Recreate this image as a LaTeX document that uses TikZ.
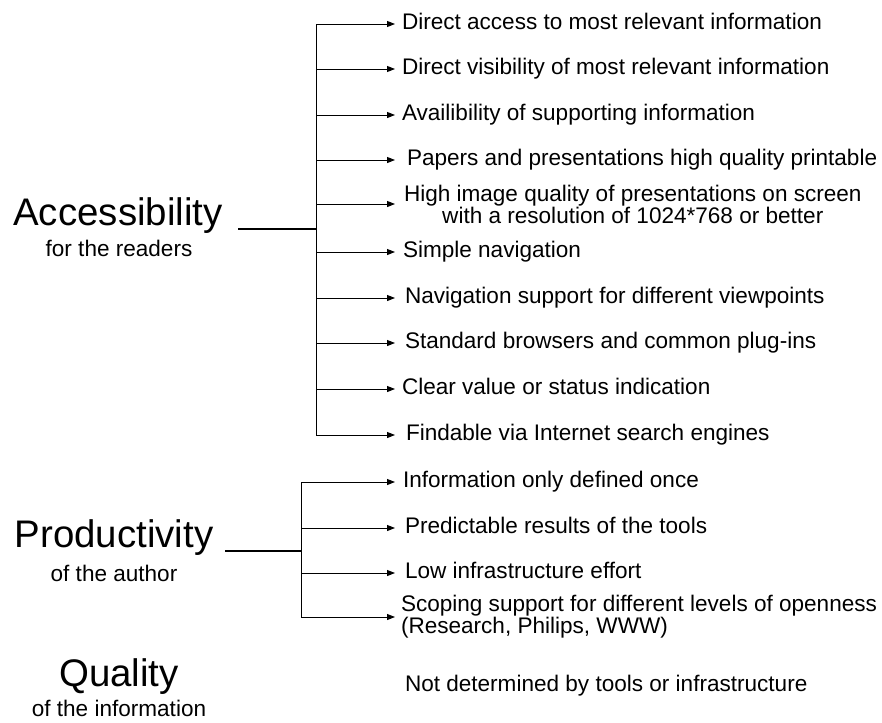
\documentclass[tikz,border=0pt]{standalone}
\usepackage{fontspec}
\setmainfont{Liberation Sans}
\usetikzlibrary{arrows.meta}

\begin{document}
\begin{tikzpicture}[x=0.3mm, y=-0.3mm,
    head/.style={font=\fontsize{32.8}{36}\selectfont, anchor=base, inner sep=0pt},
    sub/.style={font=\fontsize{19.25}{22}\selectfont, anchor=base, inner sep=0pt},
    single/.style={font=\fontsize{19.25}{22}\selectfont, anchor=west, inner ysep=0pt, inner xsep=2.1mm, outer sep=0pt, text height=13.9pt, text depth=3.9pt},
    double/.style={font=\fontsize{19.25}{18.8}\selectfont, anchor=west, inner ysep=0pt, inner xsep=2.1mm, outer sep=0pt},
    stem/.style={line width=1.7pt},
    link/.style={line width=0.85pt, -{Triangle[length=2.4mm, width=1.8mm]}}]
    \useasboundingbox (0, 0) rectangle (882, 722);
    % headings
    \node[head] (Accessibility) at (118, 225) {Accessibility};
    \node[sub] (Accessibility Sub) at (119, 256) {for the readers};
    \node[head] (Productivity) at (114, 547) {Productivity};
    \node[sub] (Productivity Sub) at (114, 581) {of the author};
    \node[head] (Quality) at (119, 686) {Quality};
    \node[sub] (Quality Sub) at (119, 716) {of the information};
    % accessibility items
    \node[single] (Direct Access) at (395, 24) {Direct access to most relevant information};
    \node[single] (Direct Visibility) at (395, 69) {Direct visibility of most relevant information};
    \node[single] (Supporting Info) at (395, 115) {Availibility of supporting information};
    \node[single, inner xsep=3.6mm] (Printable) at (395, 160) {Papers and presentations high quality printable};
    \node[double, align=center, inner xsep=2.7mm] (Screen Quality) at (395, 204) {High image quality of presentations on screen\\with a resolution of 1024*768 or better};
    \node[single, inner xsep=2.4mm] (Simple Navigation) at (395, 252) {Simple navigation};
    \node[single, inner xsep=3mm] (Viewpoints) at (395, 298) {Navigation support for different viewpoints};
    \node[single, inner xsep=3mm] (Browsers) at (395, 343) {Standard browsers and common plug-ins};
    \node[single] (Status) at (395, 389) {Clear value or status indication};
    \node[single, inner xsep=3.3mm] (Findable) at (395, 435) {Findable via Internet search engines};
    % productivity items
    \node[single, inner xsep=2.4mm] (Defined Once) at (395, 482) {Information only defined once};
    \node[single, inner xsep=3mm] (Predictable) at (395, 528) {Predictable results of the tools};
    \node[single, inner xsep=3mm] (Low Effort) at (395, 573) {Low infrastructure effort};
    \node[double, align=left, inner xsep=1.8mm] (Scoping) at (395, 617) {Scoping support for different levels of openness\\(Research, Philips, WWW)};
    % quality
    \node[single, inner xsep=3mm] (Not Determined) at (395, 686) {Not determined by tools or infrastructure};
    % brackets
    \coordinate (Access Stem) at (238, 229);
    \coordinate (Access Junction) at (316, 229);
    \coordinate (Product Stem) at (225, 551);
    \coordinate (Product Junction) at (301, 551);
    \draw[stem] (Access Stem) -- (Access Junction);
    \draw[stem, line width=1.1pt] (Product Stem) -- (Product Junction);
    \draw[link] (Access Junction) |- (Direct Access);
    \draw[link] (Access Junction) |- (Direct Visibility);
    \draw[link] (Access Junction) |- (Supporting Info);
    \draw[link] (Access Junction) |- (Printable);
    \draw[link] (Access Junction) |- (Screen Quality);
    \draw[link] (Access Junction) |- (Simple Navigation);
    \draw[link] (Access Junction) |- (Viewpoints);
    \draw[link] (Access Junction) |- (Browsers);
    \draw[link] (Access Junction) |- (Status);
    \draw[link] (Access Junction) |- (Findable);
    \draw[link] (Product Junction) |- (Defined Once);
    \draw[link] (Product Junction) |- (Predictable);
    \draw[link] (Product Junction) |- (Low Effort);
    \draw[link] (Product Junction) |- (Scoping);
\end{tikzpicture}
\end{document}
